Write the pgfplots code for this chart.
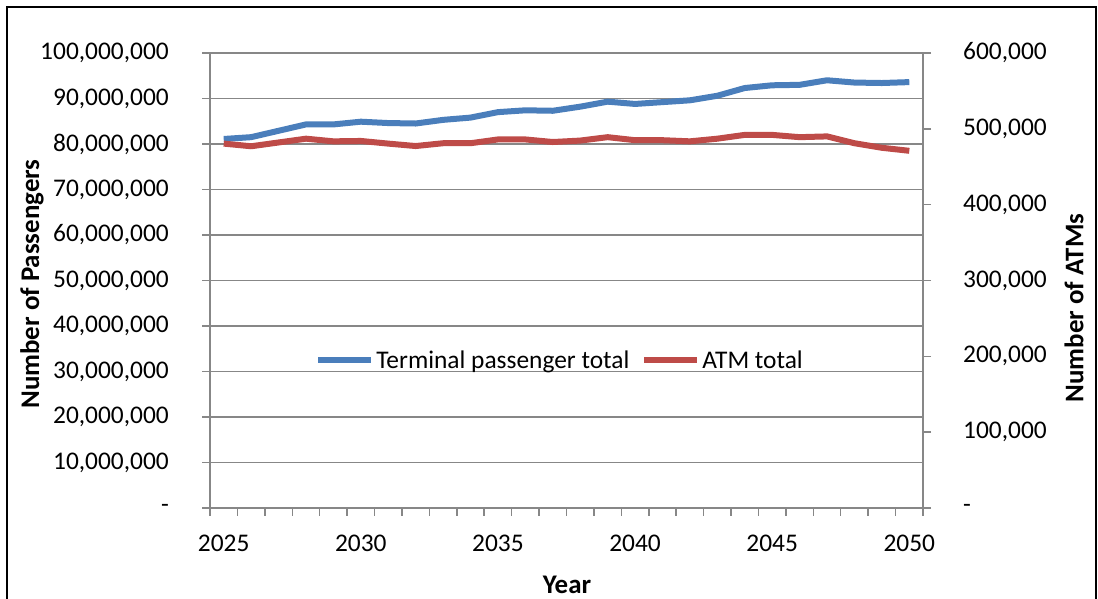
\documentclass[border=0pt]{standalone}
\usepackage{pgfplots}
\usepackage{pgfplotstable}
\pgfplotsset{compat=1.18}
\usepackage{fontspec}
\setmainfont{Carlito}

\definecolor{paxblue}{HTML}{4A7EBB}
\definecolor{atmred}{HTML}{BE4B48}
\definecolor{axisgray}{HTML}{878787}

% Forecast traffic: terminal passengers and air transport movements
\pgfplotstableread{
year pax      atm
2025 81100000 480500
2026 81500000 477000
2027 82900000 482000
2028 84300000 487000
2029 84300000 483500
2030 84900000 484000
2031 84600000 480500
2032 84500000 477300
2033 85300000 481000
2034 85800000 481000
2035 87000000 486000
2036 87400000 486000
2037 87300000 482600
2038 88200000 484500
2039 89300000 489000
2040 88800000 485000
2041 89200000 485000
2042 89600000 483500
2043 90600000 487000
2044 92300000 492000
2045 92900000 492000
2046 93000000 489000
2047 94000000 490000
2048 93500000 481000
2049 93400000 475000
2050 93600000 471000
}\traffic

\newcommand{\tickfont}{\fontsize{25.5}{30}\selectfont}
\newcommand{\titlefont}{\fontsize{27}{32}\selectfont\bfseries}

\pgfplotsset{
  common/.style={
    at={(210bp,91bp)}, anchor=south west,
    scale only axis, width=713bp, height=455bp,
    xmin=2024.5, xmax=2050.5, ymin=0,
    scaled y ticks=false, scaled x ticks=false,
    axis line style={draw=axisgray, line width=1.5bp, -},
    tick align=outside,
    major tick length=8bp,
    tick style={draw=axisgray, line width=1.5bp},
    tick label style={font=\tickfont},
  },
}

\begin{document}
\begin{tikzpicture}[x=1bp,y=1bp]
\useasboundingbox (0,0) rectangle (1098,599);
\draw[line width=2bp] (7,592) rectangle (1096,-40);

% left axis: passengers
\begin{axis}[
  common,
  ymax=100000000,
  axis x line*=bottom, axis y line*=left,
  xtick={2024.5,2025.5,...,2050.5},
  xticklabels={},
  extra x ticks={2025,2030,2035,2040,2045,2050},
  extra x tick labels={2025,2030,2035,2040,2045,2050},
  extra x tick style={major tick length=0pt,
    xticklabel style={inner sep=0pt, anchor=north, yshift=-27bp}},
  ytick={0,10000000,...,100000000},
  yticklabels={{-\hspace{10bp}},{10,000,000},{20,000,000},{30,000,000},{40,000,000},{50,000,000},{60,000,000},{70,000,000},{80,000,000},{90,000,000},{100,000,000}},
  yticklabel style={inner sep=0pt, anchor=east, xshift=-33bp},
  ymajorgrids,
  grid style={draw=axisgray, line width=1.3bp},
  legend columns=2,
  legend style={draw=none, fill=none, font=\tickfont,
    at={(0.491,0.325)}, anchor=center,
    /tikz/every even column/.append style={column sep=10bp}},
  legend image code/.code={\draw[#1] (0bp,0bp) -- (53bp,0bp);},
]
\addplot[paxblue, line width=6bp, line join=round] table[x=year, y=pax] {\traffic};
\addlegendentry{Terminal passenger total}
\addlegendimage{atmred, line width=6bp}
\addlegendentry{ATM total}
\end{axis}

% right axis: air transport movements
\begin{axis}[
  common,
  ymax=600000,
  axis x line=none, axis y line*=right,
  ytick={0,100000,...,600000},
  yticklabels={{-},{100,000},{200,000},{300,000},{400,000},{500,000},{600,000}},
  yticklabel style={inner sep=0pt, anchor=west, xshift=32bp},
]
\addplot[atmred, line width=6bp, line join=round] table[x=year, y=atm] {\traffic};
\end{axis}

\node[font=\titlefont, rotate=90] at (32,315) {Number of Passengers};
\node[font=\titlefont, rotate=90] at (1074,291) {Number of ATMs};
\node[font=\titlefont] at (567,14) {Year};
\end{tikzpicture}
\end{document}
